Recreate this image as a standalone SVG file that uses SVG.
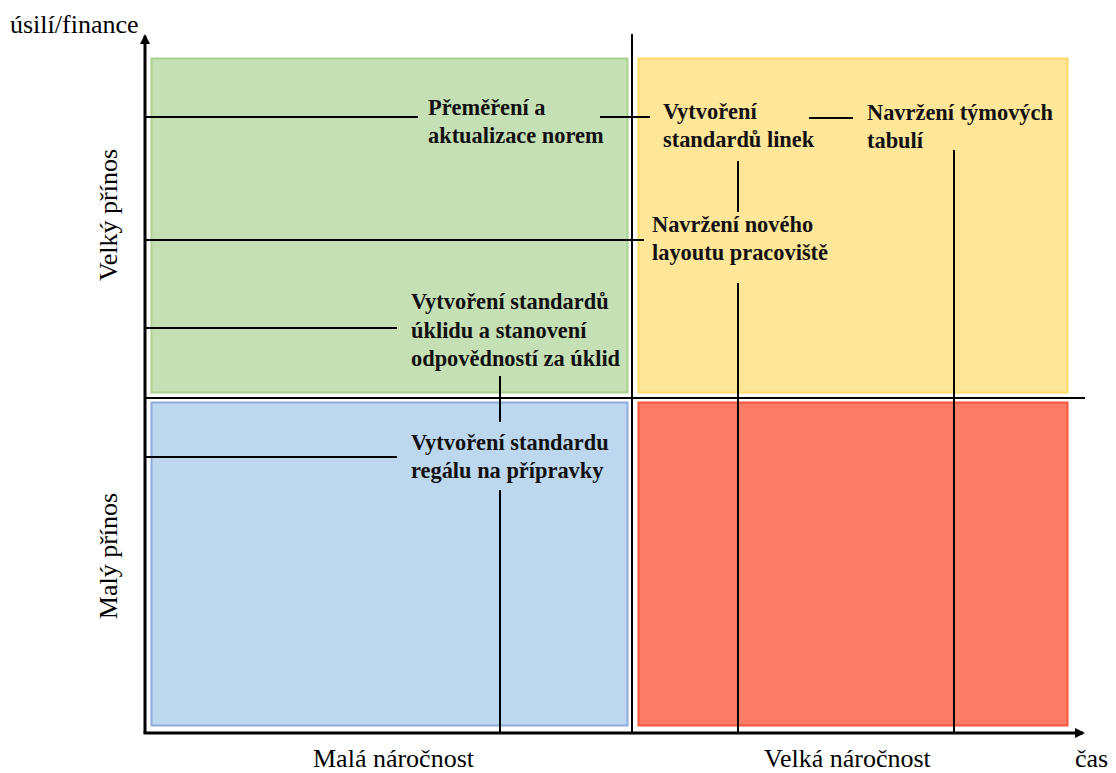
<svg xmlns="http://www.w3.org/2000/svg" width="1116" height="773" viewBox="0 0 1116 773">
<style>
.ax{font-family:"Liberation Serif","Times New Roman",serif;font-size:26px;fill:#000}
.lb{font-family:"Liberation Serif","Times New Roman",serif;font-size:22.4px;font-weight:bold;fill:#111}
.ln{stroke:#000;stroke-width:2;fill:none}
.axis{stroke:#000;stroke-width:3;fill:none}
</style>
<defs>
<marker id="arr" markerWidth="10" markerHeight="10" refX="8" refY="5" orient="auto" markerUnits="userSpaceOnUse" viewBox="0 0 10 10">
<path d="M0,0 L10,5 L0,10 z" fill="#000"/>
</marker>
</defs>
<rect width="1116" height="773" fill="#fff"/>
<g id="quadrants">
<rect id="q-green" x="151.5" y="58.5" width="476" height="334" fill="#c5e0b4" stroke="#a9d18e" stroke-width="2"/>
<rect id="q-yellow" x="638.5" y="58.5" width="429" height="334" fill="#ffe699" stroke="#ffd966" stroke-width="2"/>
<rect id="q-blue" x="151.5" y="402.5" width="476" height="323" fill="#bdd7ee" stroke="#8faadc" stroke-width="2"/>
<rect id="q-red" x="638.5" y="402.5" width="429" height="323" fill="#fb7b69" stroke="#ff553b" stroke-width="2"/>
</g>
<g id="axes">
<line class="axis" x1="145" y1="733" x2="145" y2="36" marker-end="url(#arr)"/>
<line class="axis" x1="143.5" y1="733" x2="1083" y2="733" marker-end="url(#arr)"/>
<line class="ln" x1="632" y1="34" x2="632" y2="733" stroke-width="2.5"/>
<line class="ln" x1="145" y1="398" x2="1085" y2="398" stroke-width="2.5"/>
</g>
<g id="connectors">
<line class="ln" x1="145" y1="117" x2="418" y2="117"/>
<line class="ln" x1="600" y1="117" x2="650" y2="117"/>
<line class="ln" x1="809" y1="118" x2="853" y2="118"/>
<line class="ln" x1="738" y1="161" x2="738" y2="212"/>
<line class="ln" x1="145" y1="240" x2="644" y2="240"/>
<line class="ln" x1="738" y1="283" x2="738" y2="733"/>
<line class="ln" x1="954" y1="150" x2="954" y2="733"/>
<line class="ln" x1="145" y1="328" x2="397" y2="328"/>
<line class="ln" x1="500" y1="376" x2="500" y2="422"/>
<line class="ln" x1="145" y1="457" x2="397" y2="457"/>
<line class="ln" x1="500" y1="490" x2="500" y2="733"/>
</g>
<g id="axis-labels">
<text class="ax" x="10" y="33">úsilí/finance</text>
<text class="ax" x="1075" y="767">čas</text>
<text class="ax" x="313" y="767">Malá náročnost</text>
<text class="ax" x="764" y="767">Velká náročnost</text>
<text class="ax" transform="translate(117,215) rotate(-90)" text-anchor="middle">Velký přínos</text>
<text class="ax" transform="translate(117,556) rotate(-90)" text-anchor="middle">Malý přínos</text>
</g>
<g id="node-premereni">
<text class="lb" x="428" y="115">Přeměření a</text>
<text class="lb" x="428" y="143">aktualizace norem</text>
</g>
<g id="node-standardy-linek">
<text class="lb" x="663" y="119">Vytvoření</text>
<text class="lb" x="663" y="147">standardů linek</text>
</g>
<g id="node-tymove-tabule">
<text class="lb" x="867" y="120">Navržení týmových</text>
<text class="lb" x="867" y="148">tabulí</text>
</g>
<g id="node-layout">
<text class="lb" x="652" y="232">Navržení nového</text>
<text class="lb" x="652" y="260">layoutu pracoviště</text>
</g>
<g id="node-uklid">
<text class="lb" x="411" y="309">Vytvoření standardů</text>
<text class="lb" x="411" y="338">úklidu a stanovení</text>
<text class="lb" x="411" y="366">odpovědností za úklid</text>
</g>
<g id="node-regal">
<text class="lb" x="411" y="450">Vytvoření standardu</text>
<text class="lb" x="411" y="478">regálu na přípravky</text>
</g>
</svg>
